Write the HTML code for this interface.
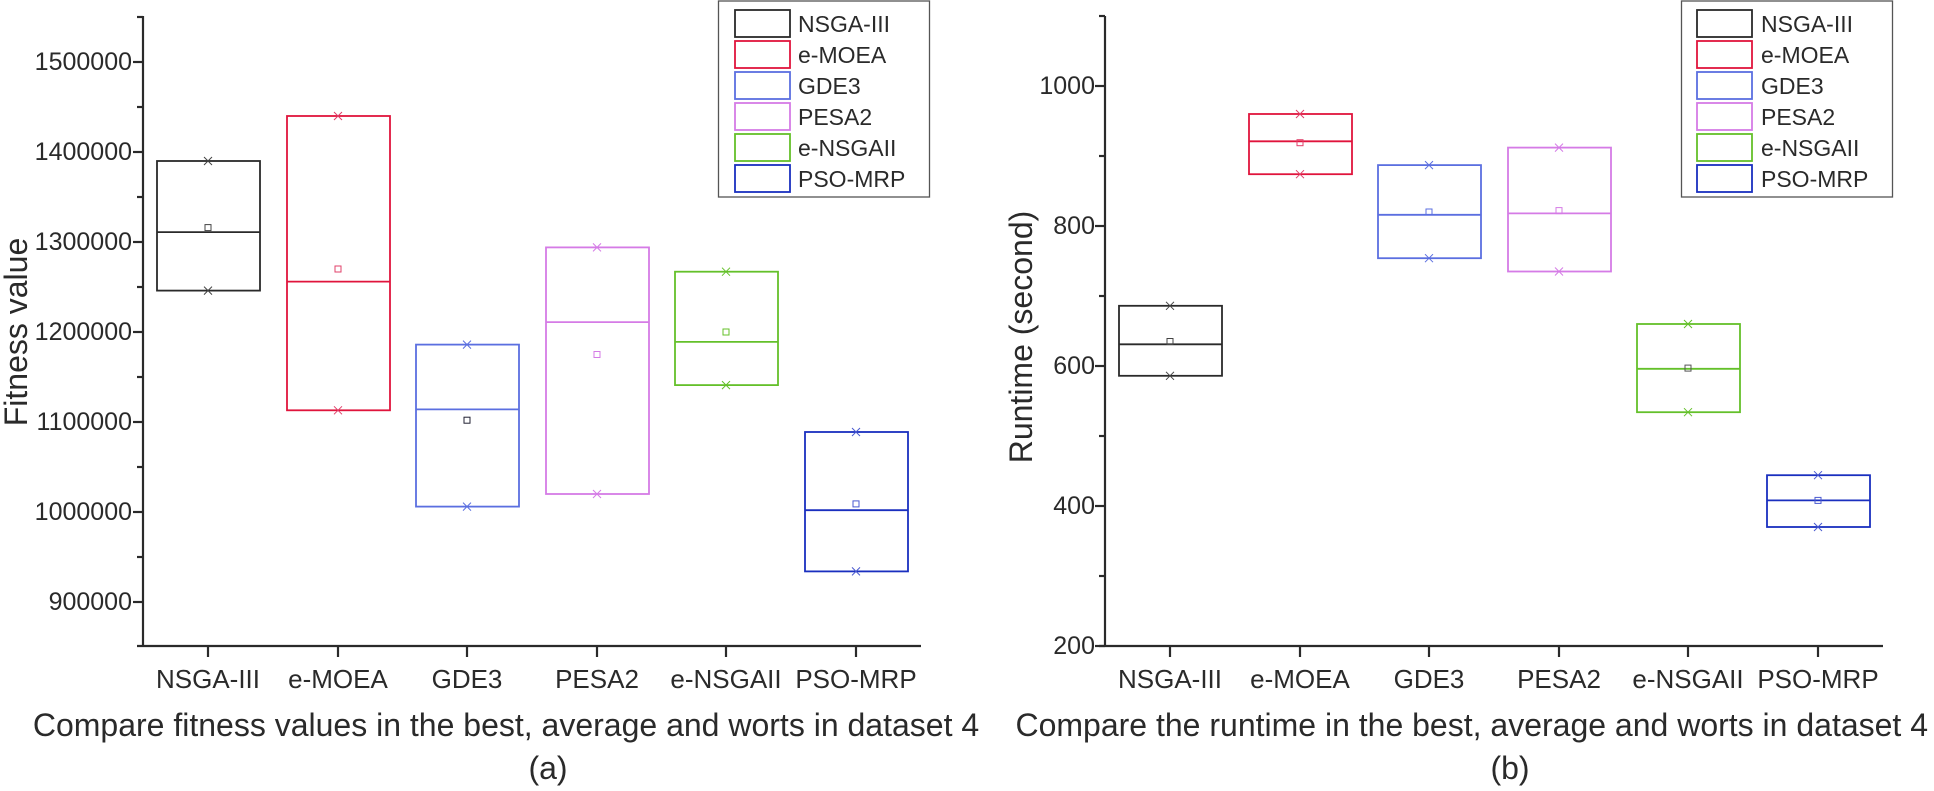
<!DOCTYPE html>
<html><head><meta charset="utf-8"><style>
html,body{margin:0;padding:0;background:#fff;}
svg{display:block;font-family:"Liberation Sans",Arial,sans-serif;fill:#2a2a2a;}
</style></head><body>
<svg width="1934" height="791" viewBox="0 0 1934 791" xmlns="http://www.w3.org/2000/svg">
<g stroke="#2a2a2a" stroke-width="2.2" fill="none">
<line x1="143" y1="16" x2="143" y2="647"/>
<line x1="137" y1="646" x2="921" y2="646"/>
<line x1="133" y1="62" x2="143" y2="62"/><line x1="133" y1="152" x2="143" y2="152"/><line x1="133" y1="242" x2="143" y2="242"/><line x1="133" y1="332" x2="143" y2="332"/><line x1="133" y1="422" x2="143" y2="422"/><line x1="133" y1="512" x2="143" y2="512"/><line x1="133" y1="602" x2="143" y2="602"/>
<line x1="137" y1="17" x2="143" y2="17"/><line x1="137" y1="107" x2="143" y2="107"/><line x1="137" y1="197" x2="143" y2="197"/><line x1="137" y1="287" x2="143" y2="287"/><line x1="137" y1="377" x2="143" y2="377"/><line x1="137" y1="467" x2="143" y2="467"/><line x1="137" y1="557" x2="143" y2="557"/>
<line x1="208" y1="646" x2="208" y2="657"/><line x1="338" y1="646" x2="338" y2="657"/><line x1="467" y1="646" x2="467" y2="657"/><line x1="597" y1="646" x2="597" y2="657"/><line x1="726" y1="646" x2="726" y2="657"/><line x1="856" y1="646" x2="856" y2="657"/>
<line x1="1105" y1="16" x2="1105" y2="647"/>
<line x1="1099" y1="646" x2="1883" y2="646"/>
<line x1="1095" y1="86" x2="1105" y2="86"/><line x1="1095" y1="226" x2="1105" y2="226"/><line x1="1095" y1="366" x2="1105" y2="366"/><line x1="1095" y1="506" x2="1105" y2="506"/><line x1="1095" y1="646" x2="1105" y2="646"/>
<line x1="1099" y1="16" x2="1105" y2="16"/><line x1="1099" y1="156" x2="1105" y2="156"/><line x1="1099" y1="296" x2="1105" y2="296"/><line x1="1099" y1="436" x2="1105" y2="436"/><line x1="1099" y1="576" x2="1105" y2="576"/>
<line x1="1170" y1="646" x2="1170" y2="657"/><line x1="1300" y1="646" x2="1300" y2="657"/><line x1="1429" y1="646" x2="1429" y2="657"/><line x1="1559" y1="646" x2="1559" y2="657"/><line x1="1688" y1="646" x2="1688" y2="657"/><line x1="1818" y1="646" x2="1818" y2="657"/>
</g>
<g font-size="25" text-anchor="end" dominant-baseline="central">
<text x="132" y="62">1500000</text><text x="132" y="152">1400000</text><text x="132" y="242">1300000</text><text x="132" y="332">1200000</text><text x="132" y="422">1100000</text><text x="132" y="512">1000000</text><text x="132" y="602">900000</text>
<text x="1095" y="86">1000</text><text x="1095" y="226">800</text><text x="1095" y="366">600</text><text x="1095" y="506">400</text><text x="1095" y="646">200</text>
</g>
<g font-size="26" text-anchor="middle" dominant-baseline="central">
<text x="208" y="679">NSGA-III</text><text x="338" y="679">e-MOEA</text><text x="467" y="679">GDE3</text><text x="597" y="679">PESA2</text><text x="726" y="679">e-NSGAII</text><text x="856" y="679">PSO-MRP</text>
<text x="1170" y="679">NSGA-III</text><text x="1300" y="679">e-MOEA</text><text x="1429" y="679">GDE3</text><text x="1559" y="679">PESA2</text><text x="1688" y="679">e-NSGAII</text><text x="1818" y="679">PSO-MRP</text>
</g>
<g font-size="32" text-anchor="middle" dominant-baseline="central">
<text x="506" y="725">Compare fitness values in the best, average and worts in dataset 4</text>
<text x="1928" y="725" text-anchor="end">Compare the runtime in the best, average and worts in dataset 4</text>
<text x="548" y="768">(a)</text>
<text x="1510" y="768">(b)</text>
</g>
<g font-size="32" text-anchor="middle" dominant-baseline="central">
<text transform="translate(16,332) rotate(-90)">Fitness value</text>
<text transform="translate(1021,337) rotate(-90)">Runtime (second)</text>
</g>

<g fill="none" stroke-width="1.8">
<g stroke="#2a2a2a"><rect x="157" y="161" width="103" height="129.6"/><line x1="157" y1="232.1" x2="260" y2="232.1"/></g>
<g stroke="#e0143c"><rect x="287" y="116" width="103" height="294.3"/><line x1="287" y1="281.6" x2="390" y2="281.6"/></g>
<g stroke="#5b6fe0"><rect x="416" y="344.6" width="103" height="162"/><line x1="416" y1="409.4" x2="519" y2="409.4"/></g>
<g stroke="#d57be6"><rect x="546" y="247.4" width="103" height="246.6"/><line x1="546" y1="322.1" x2="649" y2="322.1"/></g>
<g stroke="#64c02a"><rect x="675" y="271.7" width="103" height="113.4"/><line x1="675" y1="341.9" x2="778" y2="341.9"/></g>
<g stroke="#1a2fbf"><rect x="805" y="432" width="103" height="139.4"/><line x1="805" y1="510.2" x2="908" y2="510.2"/></g>
<g stroke="#2a2a2a"><rect x="1119" y="305.8" width="103" height="70"/><line x1="1119" y1="344.3" x2="1222" y2="344.3"/></g>
<g stroke="#e0143c"><rect x="1249" y="114" width="103" height="60.2"/><line x1="1249" y1="141.3" x2="1352" y2="141.3"/></g>
<g stroke="#5b6fe0"><rect x="1378" y="165.1" width="103" height="93.1"/><line x1="1378" y1="214.8" x2="1481" y2="214.8"/></g>
<g stroke="#d57be6"><rect x="1508" y="147.6" width="103" height="123.9"/><line x1="1508" y1="213.4" x2="1611" y2="213.4"/></g>
<g stroke="#64c02a"><rect x="1637" y="324" width="103" height="88.2"/><line x1="1637" y1="368.8" x2="1740" y2="368.8"/></g>
<g stroke="#1a2fbf"><rect x="1767" y="475.2" width="103" height="51.8"/><line x1="1767" y1="500.4" x2="1870" y2="500.4"/></g>
</g>
<g fill="none" stroke-width="1">
<g stroke="#444"><path d="M204,157l8,8m0,-8l-8,8 M204,286.6l8,8m0,-8l-8,8"/><rect x="205" y="224.6" width="6" height="6"/>
<path d="M1166,301.8l8,8m0,-8l-8,8 M1166,371.8l8,8m0,-8l-8,8"/><rect x="1167" y="338.5" width="6" height="6"/></g>
<g stroke="#e0406a"><path d="M334,112l8,8m0,-8l-8,8 M334,406.3l8,8m0,-8l-8,8"/><rect x="335" y="266" width="6" height="6"/>
<path d="M1296,110l8,8m0,-8l-8,8 M1296,170.2l8,8m0,-8l-8,8"/><rect x="1297" y="139.7" width="6" height="6"/></g>
<g stroke="#5b6fe0"><path d="M463,340.6l8,8m0,-8l-8,8 M463,502.6l8,8m0,-8l-8,8"/><rect x="464" y="417.2" width="6" height="6" stroke="#223"/>
<path d="M1425,161.1l8,8m0,-8l-8,8 M1425,254.2l8,8m0,-8l-8,8"/><rect x="1426" y="209" width="6" height="6"/></g>
<g stroke="#d57be6"><path d="M593,243.4l8,8m0,-8l-8,8 M593,490l8,8m0,-8l-8,8"/><rect x="594" y="351.5" width="6" height="6"/>
<path d="M1555,143.6l8,8m0,-8l-8,8 M1555,267.5l8,8m0,-8l-8,8"/><rect x="1556" y="207.6" width="6" height="6"/></g>
<g stroke="#64c02a"><path d="M722,267.7l8,8m0,-8l-8,8 M722,381.1l8,8m0,-8l-8,8"/><rect x="723" y="329" width="6" height="6"/>
<path d="M1684,320l8,8m0,-8l-8,8 M1684,408.2l8,8m0,-8l-8,8"/><rect x="1685" y="365.1" width="6" height="6" stroke="#555"/></g>
<g stroke="#4a5ad0"><path d="M852,428l8,8m0,-8l-8,8 M852,567.4l8,8m0,-8l-8,8"/><rect x="853" y="500.9" width="6" height="6"/>
<path d="M1814,471.2l8,8m0,-8l-8,8 M1814,523l8,8m0,-8l-8,8"/><rect x="1815" y="497.4" width="6" height="6"/></g>
</g>

<g>
<rect x="718.5" y="1" width="211" height="196" fill="#fff" stroke="#555" stroke-width="1.3"/>
<rect x="1681.5" y="1" width="211" height="196" fill="#fff" stroke="#555" stroke-width="1.3"/>
<g fill="none" stroke-width="1.8">
<rect x="735" y="10" width="55" height="27" stroke="#2a2a2a"/><rect x="735" y="41" width="55" height="27" stroke="#e0143c"/><rect x="735" y="72" width="55" height="27" stroke="#5b6fe0"/><rect x="735" y="103" width="55" height="27" stroke="#d57be6"/><rect x="735" y="134" width="55" height="27" stroke="#64c02a"/><rect x="735" y="165" width="55" height="27" stroke="#1a2fbf"/>
<rect x="1697" y="10" width="55" height="27" stroke="#2a2a2a"/><rect x="1697" y="41" width="55" height="27" stroke="#e0143c"/><rect x="1697" y="72" width="55" height="27" stroke="#5b6fe0"/><rect x="1697" y="103" width="55" height="27" stroke="#d57be6"/><rect x="1697" y="134" width="55" height="27" stroke="#64c02a"/><rect x="1697" y="165" width="55" height="27" stroke="#1a2fbf"/>
</g>
<g font-size="23" dominant-baseline="central">
<text x="798" y="24">NSGA-III</text><text x="798" y="55">e-MOEA</text><text x="798" y="86">GDE3</text><text x="798" y="117">PESA2</text><text x="798" y="148">e-NSGAII</text><text x="798" y="179">PSO-MRP</text>
<text x="1761" y="24">NSGA-III</text><text x="1761" y="55">e-MOEA</text><text x="1761" y="86">GDE3</text><text x="1761" y="117">PESA2</text><text x="1761" y="148">e-NSGAII</text><text x="1761" y="179">PSO-MRP</text>
</g>
</g>
</svg>
</body></html>
